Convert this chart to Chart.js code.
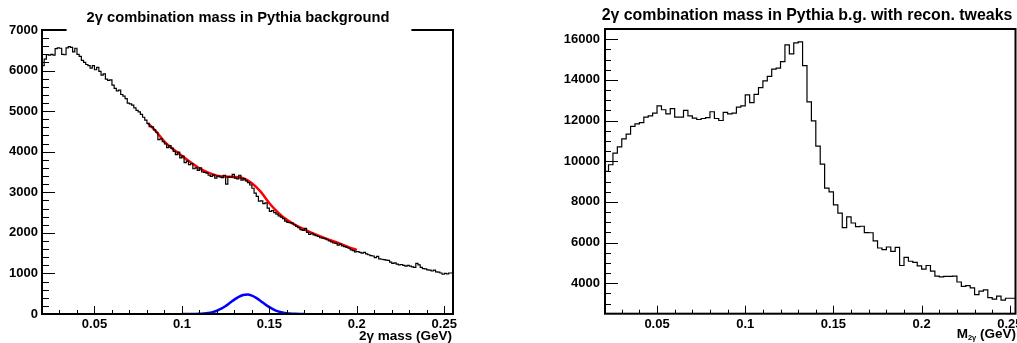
<!DOCTYPE html>
<html>
<head>
<meta charset="utf-8">
<script src="https://cdn.jsdelivr.net/npm/chart.js@4.4.0/dist/chart.umd.min.js"></script>
<style>
  body { margin: 0; background: #fff; width: 1017px; height: 343px; overflow: hidden; position: relative; }
  .box { position: absolute; top: 0; height: 343px; }
  #boxL { left: 0; width: 475px; }
  #boxR { left: 500px; width: 517px; }
</style>
</head>
<body>
<div class="box" id="boxL"><canvas id="left"></canvas></div>
<div class="box" id="boxR"><canvas id="right"></canvas></div>
<script>
// ---- left panel: 2-photon mass, Pythia background (bins of 1.25 MeV from 0.02 GeV)
const leftBinStart = 0.02;
const leftBinWidth = 0.00125;
const leftCounts = [
  6050, 6120, 6280, 6390,  6380, 6400, 6380, 6540,
  6560, 6550, 6400, 6390,  6560, 6590, 6570, 6460,
  6550, 6400, 6350, 6250,  6200, 6150, 6120, 6060,
  6120, 6020, 6080, 5980,  5890, 5920, 5790, 5760,
  5770, 5640, 5560, 5500,  5520, 5410, 5370, 5310,
  5200, 5180, 5150, 5080,  5020, 4980, 4920, 4850,
  4780, 4700, 4620, 4610,  4540, 4480, 4300, 4320,
  4250, 4190, 4100, 4150,  4090, 4010, 3930, 3990,
  3850, 3890, 3730, 3770,  3680, 3710, 3580, 3600,
  3540, 3600, 3500, 3490,  3470, 3420, 3390, 3430,
  3350, 3400, 3380, 3360,  3420, 3200, 3380, 3370,
  3440, 3350, 3330, 3420,  3300, 3340, 3280, 3240,
  3180, 3100, 2980, 2900,  2780, 2790, 2720, 2740,
  2610, 2530, 2550, 2500,  2460, 2420, 2390, 2350,
  2290, 2260, 2250, 2240,  2200, 2160, 2130, 2080,
  2060, 2110, 2010, 1960,  1990, 1950, 1930, 1910,
  1880, 1870, 1860, 1830,  1800, 1780, 1750, 1740,
  1700, 1720, 1680, 1660,  1640, 1620, 1580, 1560,
  1530, 1540, 1520, 1500,  1520, 1480, 1460, 1440,
  1430, 1390, 1420, 1360,  1350, 1340, 1330, 1320,
  1280, 1250, 1260, 1230,  1210, 1220, 1200, 1180,
  1200, 1180, 1160, 1150,  1250, 1210, 1150, 1120,
  1110, 1090, 1080, 1060,  1080, 1040, 1030, 1010,
  980, 1000, 990, 1010
];

// red fit curve (background + peak)
const fitMass = [0.0807, 0.085, 0.09, 0.095, 0.1, 0.105, 0.11, 0.115, 0.12, 0.125, 0.13, 0.135,
  0.14, 0.145, 0.15, 0.155, 0.16, 0.165, 0.17, 0.175, 0.18, 0.185, 0.19, 0.195, 0.2];
const fitCounts = [4700, 4510, 4250, 4060, 3900, 3740, 3590, 3485, 3410, 3385, 3377, 3345,
  3220, 3015, 2730, 2500, 2320, 2190, 2085, 1985, 1900, 1820, 1740, 1655, 1575];

// blue signal peak
const peakMass = [0.1, 0.1025, 0.105, 0.1075, 0.11, 0.1125, 0.115, 0.1175, 0.12, 0.1225, 0.125,
  0.1275, 0.13, 0.1325, 0.135, 0.1375, 0.14, 0.1425, 0.145, 0.1475, 0.15, 0.1525, 0.155,
  0.1575, 0.16, 0.1625, 0.165, 0.1675, 0.17];
const peakCounts = [0, 0, 1, 2, 5, 12, 24, 46, 81, 131, 197, 275, 355, 424, 468, 480, 454, 398,
  323, 243, 169, 109, 65, 36, 18, 9, 4, 1, 0];

// ---- right panel: with reconstruction tweaks (bins of 2.5 MeV from 0.02 GeV)
const rightBinStart = 0.02;
const rightBinWidth = 0.0025;
const rightCounts = [
  9250, 9500, 9825, 10400, 10700, 11100, 11330, 11710, 11830, 11900,
  12170, 12230, 12360, 12720, 12530, 12330, 12580, 12170, 12170, 12500,
  12230, 12120, 12050, 12100, 12140, 12430, 12100, 12000, 12400, 12330,
  12360, 12660, 12720, 13260, 12880, 13290, 13620, 13950, 14170, 14530,
  14580, 14900, 15720, 15280, 15820, 15870, 14700, 12920, 11980, 10740,
  9860, 8680, 8490, 7850, 7450, 6730, 7260, 6960, 6780, 6800,
  6490, 6480, 6080, 5730, 5650, 5780, 5560, 5760, 4870, 5270,
  5080, 5020, 4850, 4690, 4870, 4590, 4350, 4310, 4340, 4340,
  4350, 4060, 3840, 3880, 3770, 3440, 3610, 3670, 3290, 3220,
  3360, 3170, 3260, 3260
];

// axis ticks
const massTicks = [0.05, 0.1, 0.15, 0.2, 0.25];
const leftYTicks = [0, 1000, 2000, 3000, 4000, 5000, 6000, 7000];
const rightYTicks = [4000, 6000, 8000, 10000, 12000, 14000, 16000];

const FONT = "'Liberation Sans', Arial, Helvetica, sans-serif";

function histPoints(start, width, values) {
  const pts = values.map((v, i) => ({ x: start + i * width, y: v }));
  pts.push({ x: start + values.length * width, y: values[values.length - 1] });
  return pts;
}

function pairPoints(xs, ys) {
  return xs.map((x, i) => ({ x: x, y: ys[i] }));
}

// ROOT-like frame: box, inward ticks, title, axis title
function framePlugin(o) {
  return {
    id: 'frame',
    afterDraw(chart) {
      const { ctx, chartArea: a, scales: { x, y } } = chart;
      ctx.save();
      ctx.strokeStyle = '#000';
      ctx.lineWidth = 1;
      ctx.beginPath();
      const nY = Math.round((y.max - o.yMinorFrom) / o.yMinor);
      for (let k = 0; k <= nY; k++) {
        const v = o.yMinorFrom + k * o.yMinor;
        const py = Math.round(y.getPixelForValue(v)) + 0.5;
        const len = (v % o.yMajor === 0) ? o.yMajorLen : o.yMinorLen;
        ctx.moveTo(a.left, py);
        ctx.lineTo(a.left + len, py);
      }
      for (let k = 3; k <= 25; k++) {
        const px = Math.round(x.getPixelForValue(k / 100)) + 0.5;
        const len = (k % 5 === 0) ? 8 : 4;
        ctx.moveTo(px, a.bottom);
        ctx.lineTo(px, a.bottom - len);
      }
      ctx.stroke();
      ctx.lineWidth = 2;
      ctx.strokeRect(a.left, a.top, a.right - a.left, a.bottom - a.top);

      // title
      ctx.font = 'bold ' + o.titleSize + 'px ' + FONT;
      ctx.textAlign = 'center';
      ctx.textBaseline = 'middle';
      const tw = ctx.measureText(o.title).width;
      if (o.titleBox) {
        ctx.fillStyle = '#fff';
        ctx.fillRect(o.titleX - tw / 2 - 20, a.top - 4, tw + 42, 8);
      }
      ctx.fillStyle = '#000';
      ctx.fillText(o.title, o.titleX, o.titleY);

      // axis title, right aligned
      ctx.textAlign = 'left';
      const widths = o.xTitle.map(p => {
        ctx.font = 'bold ' + p.size + 'px ' + FONT;
        return ctx.measureText(p.t).width;
      });
      let px = o.xTitleRight - widths.reduce((s, w) => s + w, 0);
      o.xTitle.forEach((p, i) => {
        ctx.font = 'bold ' + p.size + 'px ' + FONT;
        ctx.fillText(p.t, px, o.xTitleY + (p.dy || 0));
        px += widths[i];
      });
      ctx.restore();
    }
  };
}

function makeChart(id, datasets, cfg) {
  const tickFont = { family: FONT, size: 13, weight: 'bold' };
  return new Chart(document.getElementById(id), {
    type: 'line',
    data: { datasets: datasets },
    options: {
      responsive: true,
      maintainAspectRatio: false,
      animation: false,
      devicePixelRatio: 1,
      layout: { padding: { top: cfg.top, right: cfg.right, left: 0, bottom: 0 } },
      plugins: { legend: { display: false }, tooltip: { enabled: false } },
      elements: { point: { radius: 0 } },
      scales: {
        x: {
          type: 'linear', min: cfg.xMin, max: cfg.xMax,
          grid: { display: false, drawTicks: false }, border: { display: false },
          afterBuildTicks: s => { s.ticks = massTicks.map(v => ({ value: v })); },
          afterFit: s => { s.height = cfg.xAxisH; s.paddingLeft = 0; s.paddingRight = 0; },
          ticks: { font: tickFont, color: '#000', padding: 3, maxRotation: 0, autoSkip: false,
                   callback: v => String(v) }
        },
        y: {
          type: 'linear', min: cfg.yMin, max: cfg.yMax,
          grid: { display: false, drawTicks: false }, border: { display: false },
          afterBuildTicks: s => { s.ticks = cfg.yTicks.map(v => ({ value: v })); },
          afterFit: s => { s.width = cfg.yAxisW; s.paddingTop = 0; s.paddingBottom = 0; },
          ticks: { font: tickFont, color: '#000', padding: cfg.yPad, callback: v => String(v) }
        }
      }
    },
    plugins: [framePlugin(cfg.frame)]
  });
}

makeChart('left', [
  { data: histPoints(leftBinStart, leftBinWidth, leftCounts), stepped: 'after',
    borderColor: '#000', borderWidth: 1.2, fill: false },
  { data: pairPoints(fitMass, fitCounts), cubicInterpolationMode: 'monotone',
    borderColor: '#ff0000', borderWidth: 2.5, fill: false },
  { data: pairPoints(peakMass, peakCounts), cubicInterpolationMode: 'monotone',
    borderColor: '#0000ff', borderWidth: 2.5, fill: false }
], {
  top: 30, right: 22, xAxisH: 29, yAxisW: 42, yPad: 4,
  xMin: 0.02, xMax: 0.255, yMin: 0, yMax: 7000, yTicks: leftYTicks,
  frame: {
    yMinorFrom: 0, yMinor: 200, yMajor: 1000, yMajorLen: 13, yMinorLen: 7,
    title: '2\u03b3 combination mass in Pythia background', titleSize: 14.7, titleX: 238, titleY: 18, titleBox: true,
    xTitle: [{ t: '2\u03b3 mass (GeV)', size: 13.5 }], xTitleRight: 452, xTitleY: 336
  }
});

makeChart('right', [
  { data: histPoints(rightBinStart, rightBinWidth, rightCounts), stepped: 'after',
    borderColor: '#000', borderWidth: 1.2, fill: false }
], {
  top: 29, right: 1.5, xAxisH: 29.3, yAxisW: 105, yPad: 5,
  xMin: 0.0205, xMax: 0.2532, yMin: 2500, yMax: 16500, yTicks: rightYTicks,
  frame: {
    yMinorFrom: 3000, yMinor: 500, yMajor: 2000, yMajorLen: 13, yMinorLen: 6,
    title: '2\u03b3 combination mass in Pythia b.g. with recon. tweaks', titleSize: 15.9, titleX: 307, titleY: 16, titleBox: false,
    xTitle: [{ t: 'M', size: 13.5 }, { t: '2\u03b3', size: 7.5, dy: 4 }, { t: ' (GeV)', size: 13.5 }],
    xTitleRight: 516, xTitleY: 334
  }
});
</script>
</body>
</html>
